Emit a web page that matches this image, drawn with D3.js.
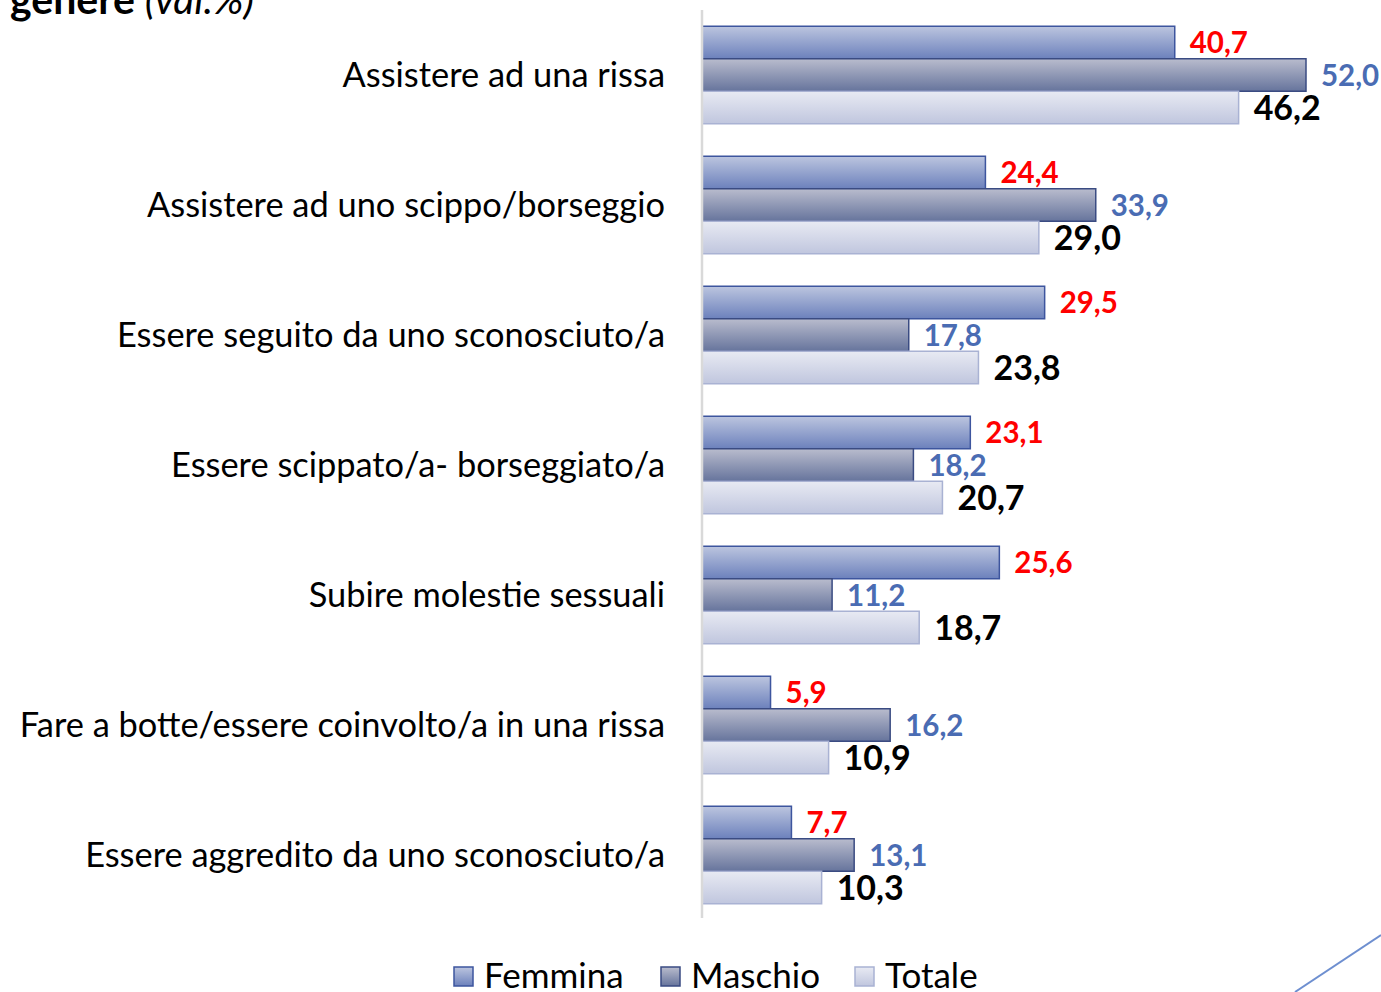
<!DOCTYPE html>
<html><head><meta charset="utf-8">
<script src="https://cdn.jsdelivr.net/npm/d3@7"></script>
<style>body{margin:0;background:#fff}svg{display:block}</style>
</head><body><svg id="c" width="1381" height="992"></svg>
<script>
const categories = [
  "Assistere ad una rissa",
  "Assistere ad uno scippo/borseggio",
  "Essere seguito da uno sconosciuto/a",
  "Essere scippato/a- borseggiato/a",
  "Subire molestie sessuali",
  "Fare a botte/essere coinvolto/a in una rissa",
  "Essere aggredito da uno sconosciuto/a"
];
const seriesNames = ["Femmina", "Maschio", "Totale"];
const femmina = [40.7, 24.4, 29.5, 23.1, 25.6, 5.9, 7.7];
const maschio = [52.0, 33.9, 17.8, 18.2, 11.2, 16.2, 13.1];
const totale  = [46.2, 29.0, 23.8, 20.7, 18.7, 10.9, 10.3];
const seriesValues = [femmina, maschio, totale];

const FONT = "Lato, 'Open Sans', sans-serif";
const svg = d3.select("#c");
const defs = svg.append("defs");
const styles = [
  {id:"gF", top:"#bcc5df", bot:"#6c81bc", stroke:"#3d559e", label:"#ff0000", size:29.5},
  {id:"gM", top:"#b9bccd", bot:"#66749c", stroke:"#3a4b82", label:"#4a6cb3", size:29.5},
  {id:"gT", top:"#e8eaf3", bot:"#c0c6de", stroke:"#a9b2d3", label:"#000000", size:34}
];
styles.forEach(s => {
  const g = defs.append("linearGradient").attr("id", s.id).attr("x1",0).attr("y1",0).attr("x2",0).attr("y2",1);
  g.append("stop").attr("offset","0%").attr("stop-color", s.top);
  g.append("stop").attr("offset","100%").attr("stop-color", s.bot);
});

const x0 = 702;
const x = d3.scaleLinear().domain([0, 52]).range([x0, 1306]);
const y = d3.scaleBand().domain(categories).range([10, 920]).paddingInner(0.25).paddingOuter(0.125);
const ys = d3.scaleBand().domain(seriesNames).range([0, y.bandwidth()]);

// title (partly cut off)
const title = svg.append("text").attr("x", 10).attr("y", 14).attr("font-family", FONT).attr("font-size", 41).attr("fill", "#000");
title.append("tspan").attr("font-weight", "bold").text("genere ");
title.append("tspan").attr("font-style", "italic").text("(val.%)");

// category labels
svg.append("g").selectAll("text").data(categories).join("text")
  .attr("x", 665).attr("y", d => y(d) + y.bandwidth()/2)
  .attr("dy", "0.35em").attr("text-anchor", "end")
  .attr("font-family", FONT).attr("font-size", 34.4).attr("fill", "#000")
  .text(d => d);

// bars
seriesNames.forEach((name, si) => {
  const s = styles[si];
  const g = svg.append("g");
  g.selectAll("rect").data(categories).join("rect")
    .attr("x", x(0)).attr("y", c => y(c) + ys(name))
    .attr("width", (c, i) => x(seriesValues[si][i]) - x(0))
    .attr("height", ys.bandwidth())
    .attr("fill", `url(#${s.id})`).attr("stroke", s.stroke).attr("stroke-width", 1.5);
  g.selectAll("text").data(categories).join("text")
    .attr("x", (c, i) => x(seriesValues[si][i]) + 15)
    .attr("y", c => y(c) + ys(name) + ys.bandwidth()/2)
    .attr("dy", "0.36em")
    .attr("font-family", FONT).attr("font-weight", "bold").attr("font-size", s.size).attr("fill", s.label)
    .text((c, i) => d3.format(".1f")(seriesValues[si][i]).replace(".", ","));
});

// axis line
svg.append("line").attr("x1", x0).attr("x2", x0).attr("y1", 10).attr("y2", 918)
  .attr("stroke", "#d9d9d9").attr("stroke-width", 2.5);

// legend
const legX = [454, 661, 855];
const leg = svg.append("g");
seriesNames.forEach((name, i) => {
  leg.append("rect").attr("x", legX[i]).attr("y", 967).attr("width", 19).attr("height", 19)
    .attr("fill", `url(#${styles[i].id})`).attr("stroke", styles[i].stroke).attr("stroke-width", 1.5);
  leg.append("text").attr("x", legX[i] + 30).attr("y", 988)
    .attr("font-family", FONT).attr("font-size", 35).attr("fill", "#000").text(name);
});

// decorative line
svg.append("line").attr("x1", 1295).attr("y1", 992).attr("x2", 1381).attr("y2", 935)
  .attr("stroke", "#6e8fd0").attr("stroke-width", 2);
</script>
</body></html>
